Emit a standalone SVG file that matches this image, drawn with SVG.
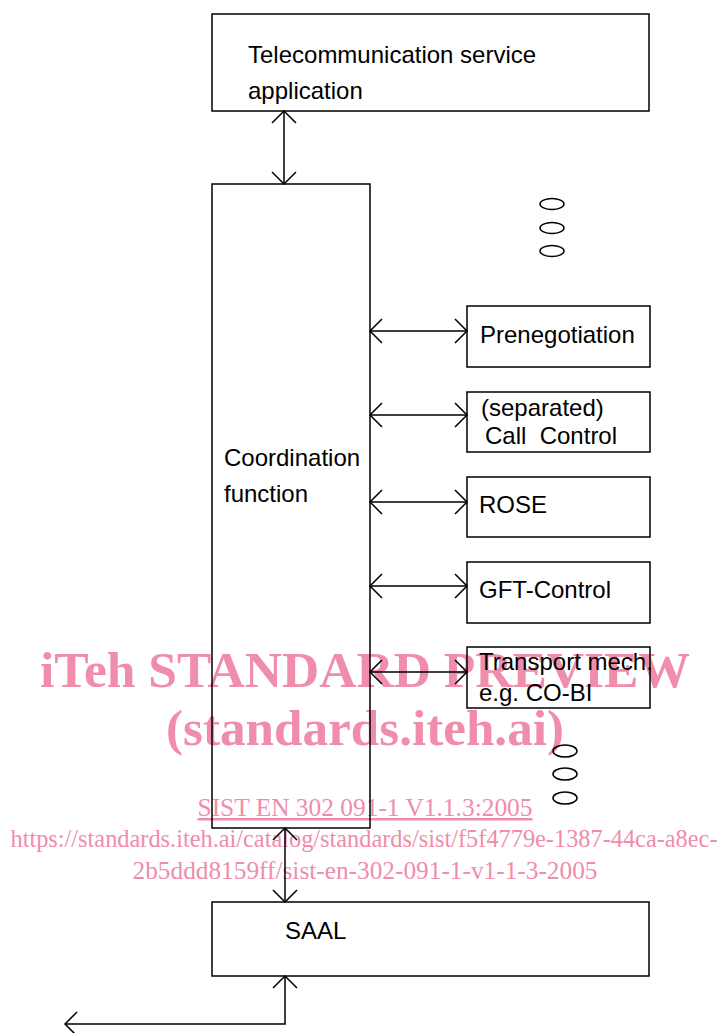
<svg xmlns="http://www.w3.org/2000/svg" width="720" height="1033" viewBox="0 0 720 1033">
<style>
.box{fill:none;stroke:#000;stroke-width:1.5}
.lbl{font-family:"Liberation Sans",Arial,sans-serif;font-size:24px;fill:#000}
.wm{font-family:"Liberation Serif","Times New Roman",serif;fill:#ef8dab}
.wmb{font-size:51px;font-weight:bold}
.wms{font-size:25px}
.con{fill:none;stroke:#000;stroke-width:1.5}
.ell{fill:none;stroke:#000;stroke-width:1.5}
</style>
<defs>
<marker id="ah" markerUnits="userSpaceOnUse" markerWidth="30" markerHeight="30" refX="0" refY="0" viewBox="-15 -15 30 30" orient="auto-start-reverse">
<path d="M-12,-12 L0,0 L-12,12" fill="none" stroke="#000" stroke-width="1.5"/>
</marker>
</defs>
<rect width="720" height="1033" fill="#fff"/>
<g id="watermark">
<text class="wm wmb" x="365" y="687" text-anchor="middle" textLength="650" lengthAdjust="spacingAndGlyphs">iTeh STANDARD PREVIEW</text>
<text class="wm wmb" x="365" y="745" text-anchor="middle" textLength="398" lengthAdjust="spacingAndGlyphs">(standards.iteh.ai)</text>
<text class="wm wms" x="365" y="816" text-anchor="middle" textLength="335" lengthAdjust="spacingAndGlyphs" text-decoration="underline">SIST EN 302 091-1 V1.1.3:2005</text>
<text class="wm wms" x="364" y="847" text-anchor="middle" textLength="707" lengthAdjust="spacingAndGlyphs">https://standards.iteh.ai/catalog/standards/sist/f5f4779e-1387-44ca-a8ec-</text>
<text class="wm wms" x="365" y="879" text-anchor="middle" textLength="465" lengthAdjust="spacingAndGlyphs">2b5ddd8159ff/sist-en-302-091-1-v1-1-3-2005</text>
</g>
<g id="connectors">
<line class="con" x1="284" y1="111" x2="284" y2="184" marker-start="url(#ah)" marker-end="url(#ah)"/>
<line class="con" x1="370" y1="331" x2="467" y2="331" marker-start="url(#ah)" marker-end="url(#ah)"/>
<line class="con" x1="370" y1="415" x2="467" y2="415" marker-start="url(#ah)" marker-end="url(#ah)"/>
<line class="con" x1="370" y1="502" x2="467" y2="502" marker-start="url(#ah)" marker-end="url(#ah)"/>
<line class="con" x1="370" y1="586" x2="467" y2="586" marker-start="url(#ah)" marker-end="url(#ah)"/>
<line class="con" x1="370" y1="672" x2="467" y2="672" marker-start="url(#ah)" marker-end="url(#ah)"/>
<line class="con" x1="285" y1="828" x2="285" y2="902" marker-start="url(#ah)" marker-end="url(#ah)"/>
<polyline class="con" points="65,1024 285,1024 285,976" marker-start="url(#ah)" marker-end="url(#ah)"/>
</g>
<g id="tsa">
<rect class="box" x="212" y="14" width="437" height="97"/>
<text class="lbl" x="248" y="63">Telecommunication service</text>
<text class="lbl" x="248" y="99">application</text>
</g>
<g id="coord">
<rect class="box" x="212" y="184" width="158" height="644"/>
<text class="lbl" x="224" y="466">Coordination</text>
<text class="lbl" x="224" y="502">function</text>
</g>
<g id="dots-top">
<ellipse class="ell" cx="552" cy="204" rx="12" ry="5.5"/>
<ellipse class="ell" cx="552" cy="228" rx="12" ry="5.5"/>
<ellipse class="ell" cx="552" cy="251" rx="12" ry="5.5"/>
</g>
<g id="prenegotiation">
<rect class="box" x="467" y="306" width="183" height="61"/>
<text class="lbl" x="480" y="343">Prenegotiation</text>
</g>
<g id="callcontrol">
<rect class="box" x="467" y="392" width="183" height="60"/>
<text class="lbl" x="481" y="416">(separated)</text>
<text class="lbl" x="485" y="444" xml:space="preserve">Call  Control</text>
</g>
<g id="rose">
<rect class="box" x="467" y="477" width="183" height="60"/>
<text class="lbl" x="479" y="513">ROSE</text>
</g>
<g id="gft">
<rect class="box" x="467" y="562" width="183" height="61"/>
<text class="lbl" x="479" y="598">GFT-Control</text>
</g>
<g id="transport">
<rect class="box" x="467" y="647" width="183" height="61"/>
<text class="lbl" x="479" y="670">Transport mech.</text>
<text class="lbl" x="479" y="701">e.g. CO-BI</text>
</g>
<g id="dots-bottom">
<ellipse class="ell" cx="565" cy="751" rx="12" ry="6"/>
<ellipse class="ell" cx="565" cy="774" rx="12" ry="6"/>
<ellipse class="ell" cx="565" cy="798" rx="12" ry="6"/>
</g>
<g id="saal">
<rect class="box" x="212" y="902" width="437" height="74"/>
<text class="lbl" x="285" y="939">SAAL</text>
</g>
</svg>
